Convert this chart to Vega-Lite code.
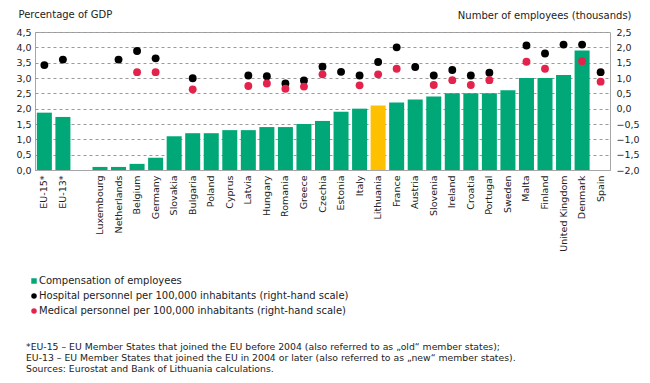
{
  "$schema": "https://vega.github.io/schema/vega-lite/v6.json",
  "width": 575,
  "height": 138,
  "autosize": "none",
  "padding": {"left": 35, "top": 32, "right": 40, "bottom": 213},
  "background": "white",
  "config": {
    "font": "DejaVu Sans",
    "view": {"stroke": "#a6a6a6", "strokeWidth": 1},
    "axis": {"labelFont": "DejaVu Sans", "labelFontSize": 9.5, "labelColor": "#222", "ticks": false, "domain": false, "titleFont": "DejaVu Sans", "titleFontWeight": "normal", "titleFontSize": 10, "titleColor": "#222"},
    "legend": {"labelFont": "DejaVu Sans", "labelFontSize": 10, "labelColor": "#222", "labelLimit": 0},
    "title": {"font": "DejaVu Sans"}
  },
  "title": {
    "text": [
      "*EU-15 – EU Member States that joined the EU before 2004 (also referred to as „old“ member states);",
      "EU-13 – EU Member States that joined the EU in 2004 or later (also referred to as „new“ member states).",
      "Sources: Eurostat and Bank of Lithuania calculations."
    ],
    "orient": "bottom",
    "anchor": "start",
    "frame": "group",
    "dx": -9,
    "offset": 27,
    "fontSize": 9.3,
    "fontWeight": "normal",
    "color": "#222",
    "lineHeight": 11
  },
  "data": {
    "values": [
      {"country": "EU-15*", "comp": 1.87, "hosp": 1.42, "med": null},
      {"country": "EU-13*", "comp": 1.73, "hosp": 1.6, "med": null},
      {"country": "gap", "comp": null, "hosp": null, "med": null},
      {"country": "Luxembourg", "comp": 0.1, "hosp": null, "med": null},
      {"country": "Netherlands", "comp": 0.1, "hosp": 1.6, "med": null},
      {"country": "Belgium", "comp": 0.2, "hosp": 1.88, "med": 1.19},
      {"country": "Germany", "comp": 0.4, "hosp": 1.64, "med": 1.19},
      {"country": "Slovakia", "comp": 1.1, "hosp": null, "med": null},
      {"country": "Bulgaria", "comp": 1.2, "hosp": 0.99, "med": 0.63},
      {"country": "Poland", "comp": 1.2, "hosp": null, "med": null},
      {"country": "Cyprus", "comp": 1.3, "hosp": null, "med": null},
      {"country": "Latvia", "comp": 1.3, "hosp": 1.08, "med": 0.74},
      {"country": "Hungary", "comp": 1.4, "hosp": 1.06, "med": 0.82},
      {"country": "Romania", "comp": 1.4, "hosp": 0.82, "med": 0.65},
      {"country": "Greece", "comp": 1.5, "hosp": 0.92, "med": 0.72},
      {"country": "Czechia", "comp": 1.6, "hosp": 1.37, "med": 1.12},
      {"country": "Estonia", "comp": 1.9, "hosp": 1.2, "med": null},
      {"country": "Italy", "comp": 2.0, "hosp": 1.08, "med": 0.76},
      {"country": "Lithuania", "comp": 2.1, "hosp": 1.52, "med": 1.12},
      {"country": "France", "comp": 2.2, "hosp": 2.0, "med": 1.3},
      {"country": "Austria", "comp": 2.3, "hosp": 1.36, "med": null},
      {"country": "Slovenia", "comp": 2.4, "hosp": 1.08, "med": 0.77},
      {"country": "Ireland", "comp": 2.5, "hosp": 1.26, "med": 0.93},
      {"country": "Croatia", "comp": 2.5, "hosp": 1.08, "med": 0.77},
      {"country": "Portugal", "comp": 2.5, "hosp": 1.17, "med": 0.93},
      {"country": "Sweden", "comp": 2.6, "hosp": null, "med": null},
      {"country": "Malta", "comp": 3.0, "hosp": 2.06, "med": 1.53},
      {"country": "Finland", "comp": 3.0, "hosp": 1.8, "med": 1.3},
      {"country": "United Kingdom", "comp": 3.1, "hosp": 2.09, "med": null},
      {"country": "Denmark", "comp": 3.9, "hosp": 2.09, "med": 1.55},
      {"country": "Spain", "comp": null, "hosp": 1.19, "med": 0.88}
    ]
  },
  "encoding": {
    "x": {
      "field": "country",
      "type": "nominal",
      "sort": null,
      "scale": {
        "domain": ["EU-15*", "EU-13*", "gap", "Luxembourg", "Netherlands", "Belgium", "Germany", "Slovakia", "Bulgaria", "Poland", "Cyprus", "Latvia", "Hungary", "Romania", "Greece", "Czechia", "Estonia", "Italy", "Lithuania", "France", "Austria", "Slovenia", "Ireland", "Croatia", "Portugal", "Sweden", "Malta", "Finland", "United Kingdom", "Denmark", "Spain"],
        "paddingInner": 0.19,
        "paddingOuter": 0.1
      },
      "axis": {
        "title": null,
        "labelAngle": -90,
        "labelAlign": "right",
        "labelBaseline": "middle",
        "labelPadding": 5,
        "domain": true,
        "domainColor": "#a6a6a6",
        "labelExpr": "datum.label === 'gap' ? '' : datum.label"
      }
    }
  },
  "layer": [
    {
      "mark": {"type": "bar"},
      "encoding": {
        "y": {
          "field": "comp",
          "type": "quantitative",
          "scale": {"domain": [0, 4.5], "nice": false},
          "axis": {
            "values": [0, 0.5, 1, 1.5, 2, 2.5, 3, 3.5, 4, 4.5],
            "labelExpr": "replace(format(datum.value, '.1f'), '.', ',')",
            "labelPadding": 4,
            "grid": true,
            "gridDash": [3, 3],
            "gridColor": "#9a9a9a",
            "title": "Percentage of GDP",
            "titleAngle": 0,
            "titleAlign": "left",
            "titleBaseline": "middle",
            "titleX": -17,
            "titleY": -18
          }
        },
        "color": {
          "datum": "Compensation of employees",
          "type": "nominal",
          "condition": {"test": "datum.country === 'Lithuania'", "value": "#FFC000"},
          "scale": {
            "domain": ["Compensation of employees", "Hospital personnel per 100,000 inhabitants (right-hand scale)", "Medical personnel per 100,000 inhabitants (right-hand scale)"],
            "range": ["#00A878", "#000000", "#E4234C"]
          },
          "legend": {
            "title": null,
            "orient": "none",
            "legendX": -6,
            "legendY": 244,
            "direction": "vertical",
            "symbolSize": 30,
            "rowPadding": 5,
            "labelOffset": 0,
            "labelLimit": 0,
            "encode": {
              "symbols": {
                "update": {
                  "shape": {"signal": "datum.value === 'Compensation of employees' ? 'square' : 'circle'"},
                  "strokeWidth": {"value": 0}
                }
              }
            }
          }
        }
      }
    },
    {
      "layer": [
        {
          "mark": {"type": "point", "filled": true, "size": 62, "opacity": 1},
          "encoding": {
            "y": {
              "field": "hosp",
              "type": "quantitative",
              "scale": {"domain": [-2, 2.5], "nice": false},
              "axis": {
                "orient": "right",
                "values": [-2, -1.5, -1, -0.5, 0, 0.5, 1, 1.5, 2, 2.5],
                "labelExpr": "replace(format(datum.value, '.1f'), '.', ',')",
                "labelPadding": 6,
                "grid": false,
                "title": "Number of employees (thousands)",
                "titleAngle": 0,
                "titleAlign": "right",
                "titleBaseline": "middle",
                "titleX": 21,
                "titleY": -17
              }
            },
            "color": {"datum": "Hospital personnel per 100,000 inhabitants (right-hand scale)", "type": "nominal"}
          }
        },
        {
          "mark": {"type": "point", "filled": true, "size": 62, "opacity": 1},
          "encoding": {
            "y": {
              "field": "med",
              "type": "quantitative",
              "scale": {"domain": [-2, 2.5], "nice": false},
              "axis": {
                "orient": "right",
                "values": [-2, -1.5, -1, -0.5, 0, 0.5, 1, 1.5, 2, 2.5],
                "labelExpr": "replace(format(datum.value, '.1f'), '.', ',')",
                "labelPadding": 6,
                "grid": false,
                "title": "Number of employees (thousands)",
                "titleAngle": 0,
                "titleAlign": "right",
                "titleBaseline": "middle",
                "titleX": 21,
                "titleY": -17
              }
            },
            "color": {"datum": "Medical personnel per 100,000 inhabitants (right-hand scale)", "type": "nominal"}
          }
        }
      ]
    }
  ],
  "resolve": {"scale": {"y": "independent"}, "axis": {"y": "independent"}}
}
